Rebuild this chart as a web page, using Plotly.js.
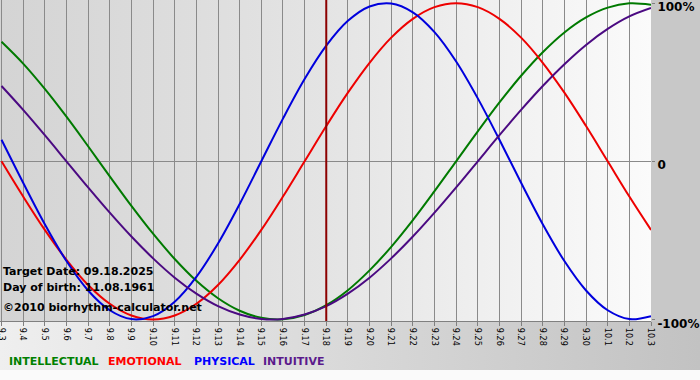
<!DOCTYPE html>
<html>
<head>
<meta charset="utf-8">
<script src="https://cdn.plot.ly/plotly-3.0.1.min.js"></script>
<style>
  html, body { margin: 0; padding: 0; background: #fafafa; }
  #wrap { position: relative; width: 700px; height: 380px; overflow: hidden; background: #fafafa; }
  .bg { position: absolute; }
  #bgPlot { left: 0; top: 0; width: 651px; height: 321px; background: linear-gradient(to right, #d4d4d4, #e4e4e4 50%, #fbfbfb); }
  #bgRight { left: 651px; top: 0; width: 49px; height: 321px; background: #c8c8c8; }
  #bgBottom { left: 0; top: 321px; width: 700px; height: 49px; background: linear-gradient(to right, #efefef, #c2c2c2); }
  #chart { position: absolute; left: 0; top: 0; width: 700px; height: 380px; }
</style>
</head>
<body>
<div id="wrap">
  <div class="bg" id="bgPlot"></div>
  <div class="bg" id="bgRight"></div>
  <div class="bg" id="bgBottom"></div>
  <div id="chart"></div>
</div>
<script>
// Day labels (9.3 .. 10.3)
const days = ['9.3','9.4','9.5','9.6','9.7','9.8','9.9','9.10','9.11','9.12','9.13','9.14','9.15','9.16','9.17','9.18',
  '9.19','9.20','9.21','9.22','9.23','9.24','9.25','9.26','9.27','9.28','9.29','9.30','10.1','10.2','10.3'];

// Values (fraction of 100%)
const intellectual = [0.756,0.618,0.458,0.282,0.095,-0.095,-0.282,-0.458,-0.618,-0.756,-0.866,-0.945,-0.990,-0.999,-0.972,-0.910,
  -0.815,-0.690,-0.541,-0.372,-0.189,0.000,0.189,0.372,0.541,0.690,0.815,0.910,0.972,0.999,0.990];
const emotional = [0.000,-0.223,-0.434,-0.623,-0.782,-0.901,-0.975,-1.000,-0.975,-0.901,-0.782,-0.623,-0.434,-0.223,0.000,0.223,
  0.434,0.623,0.782,0.901,0.975,1.000,0.975,0.901,0.782,0.623,0.434,0.223,0.000,-0.223,-0.434];
const physical = [0.136,-0.136,-0.398,-0.631,-0.817,-0.942,-0.998,-0.979,-0.888,-0.731,-0.520,-0.270,0.000,0.270,0.520,0.731,
  0.888,0.979,0.998,0.942,0.817,0.631,0.398,0.136,-0.136,-0.398,-0.631,-0.817,-0.942,-0.998,-0.979];
const intuitive = [0.476,0.325,0.165,0.000,-0.165,-0.325,-0.476,-0.614,-0.736,-0.837,-0.916,-0.969,-0.997,-0.997,-0.969,-0.916,
  -0.837,-0.736,-0.614,-0.476,-0.325,-0.165,0.000,0.165,0.325,0.476,0.614,0.736,0.837,0.916,0.969];

const seriesNames = ['INTELLECTUAL','EMOTIONAL','PHYSICAL','INTUITIVE'];
const lineColors = ['#007a00','#ee0000','#0000dd','#4b0a82'];
const labelColors = ['#008000','#ff0000','#0000ff','#5b1a8c'];
const targetDay = '9.18';
const yTickVals = [-1, 0, 1];
const yTickText = ['-100%', '0', '100%'];

const seriesData = [intellectual, emotional, physical, intuitive];
const xIdx = days.map((d, i) => i);

const traces = seriesData.map((vals, k) => ({
  x: xIdx, y: vals, type: 'scatter', mode: 'lines', name: seriesNames[k],
  line: { color: lineColors[k], width: 2, shape: 'spline', smoothing: 1 },
  hoverinfo: 'skip', cliponaxis: true
}));

const plotW = 651, plotH = 321;
const pxX = px => px / plotW;
const pxY = py => (plotH - py) / plotH;

const infoFont = { family: 'DejaVu Sans, Verdana, sans-serif', size: 11, color: '#000', weight: 'bold' };

const legendX = [8, 107, 193, 262];
const annotations = [
  { text: 'Target Date: 09.18.2025', x: pxX(1), y: pxY(271) },
  { text: 'Day of birth: 11.08.1961', x: pxX(1), y: pxY(287) },
  { text: '©2010 biorhythm-calculator.net', x: pxX(1), y: pxY(307) }
].map(a => Object.assign({ xref: 'paper', yref: 'paper', xanchor: 'left', yanchor: 'middle', showarrow: false, font: infoFont }, a));

seriesNames.forEach((n, k) => {
  annotations.push({
    text: n, xref: 'paper', yref: 'paper', x: pxX(legendX[k] - 1), y: pxY(361),
    xanchor: 'left', yanchor: 'middle', showarrow: false,
    font: { family: 'DejaVu Sans, Verdana, sans-serif', size: 11, color: labelColors[k], weight: 'bold' }
  });
});

const layout = {
  width: 700, height: 380,
  margin: { l: 0, r: 49, t: 0, b: 59, pad: 0 },
  paper_bgcolor: 'rgba(0,0,0,0)', plot_bgcolor: 'rgba(0,0,0,0)',
  showlegend: false,
  xaxis: {
    range: [-0.07, 30], tickmode: 'array', tickvals: xIdx, ticktext: days,
    tickangle: 90, ticks: 'outside', ticklen: 4, tickcolor: '#808080',
    tickfont: { family: 'Liberation Sans Narrow, DejaVu Sans Condensed, Arial Narrow, sans-serif', size: 9, color: '#000' },
    ticklabeloverflow: 'allow',
    showgrid: true, gridcolor: '#8a8a8a', gridwidth: 1,
    showline: true, linecolor: '#808080', linewidth: 1,
    zeroline: false, fixedrange: true, automargin: false
  },
  yaxis: {
    range: [-1.01, 1.02], side: 'right', tickmode: 'array', tickvals: yTickVals, ticktext: yTickText,
    ticks: 'outside', ticklen: 3, tickcolor: '#808080',
    tickfont: { family: 'DejaVu Sans, Verdana, sans-serif', size: 12, color: '#000', weight: 'bold' },
    ticklabeloverflow: 'allow', ticklabelshift: 4,
    showgrid: false, zeroline: true, zerolinecolor: '#8a8a8a', zerolinewidth: 1,
    showline: false, fixedrange: true, automargin: false
  },
  shapes: [{
    type: 'line', xref: 'x', yref: 'paper', x0: days.indexOf(targetDay), x1: days.indexOf(targetDay), y0: 0, y1: 1,
    line: { color: '#8c0000', width: 2 }, layer: 'above'
  }],
  annotations: annotations
};

Plotly.newPlot('chart', traces, layout, { displayModeBar: false, staticPlot: true });
</script>
</body>
</html>
